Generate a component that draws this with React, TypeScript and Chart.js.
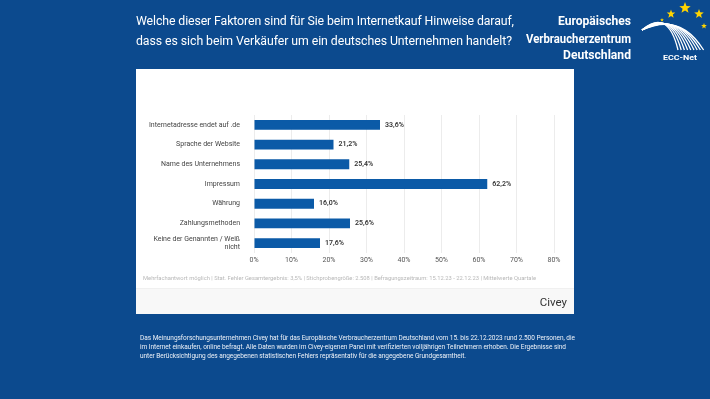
import React, { useEffect, useRef } from "react";
import { Chart, registerables } from "chart.js";

Chart.register(...registerables);

const categories: (string | string[])[] = [
  "Internetadresse endet auf .de",
  "Sprache der Website",
  "Name des Unternehmens",
  "Impressum",
  "Währung",
  "Zahlungsmethoden",
  ["Keine der Genannten / Weiß", "nicht"],
];
const values = [33.6, 21.2, 25.4, 62.2, 16.0, 25.6, 17.6];
const xTicks = [0, 10, 20, 30, 40, 50, 60, 70, 80];

const titleLines = [
  "Welche dieser Faktoren sind für Sie beim Internetkauf Hinweise darauf,",
  "dass es sich beim Verkäufer um ein deutsches Unternehmen handelt?",
];
const logoLines = ["Europäisches", "Verbraucherzentrum", "Deutschland"];
const footnote =
  "Mehrfachantwort möglich | Stat. Fehler Gesamtergebnis: 3,5% | Stichprobengröße: 2.508 | Befragungszeitraum: 15.12.23 - 22.12.23 | Mittelwerte Quartale";
const bodyLines = [
  "Das Meinungsforschungsunternehmen Civey hat für das Europäische Verbraucherzentrum Deutschland vom 15. bis 22.12.2023 rund 2.500 Personen, die",
  "im Internet einkaufen, online befragt. Alle Daten wurden im Civey-eigenen Panel mit verifizierten volljährigen Teilnehmern erhoben. Die Ergebnisse sind",
  "unter Berücksichtigung des angegebenen statistischen Fehlers repräsentativ für die angegebene Grundgesamtheit.",
];

const BLUE_BG = "#0c4a8e";
const BAR = "#0b5aa7";

const fmt = (v: number) => v.toFixed(1).replace(".", ",") + "%";

const valueLabels = {
  id: "valueLabels",
  afterDatasetsDraw(chart: any) {
    const ctx = chart.ctx;
    const meta = chart.getDatasetMeta(0);
    ctx.save();
    ctx.font = "600 7px Roboto";
    ctx.fillStyle = "#333";
    ctx.textAlign = "left";
    ctx.textBaseline = "middle";
    meta.data.forEach((bar: any, i: number) => {
      ctx.fillText(fmt(values[i]), bar.x + 5, bar.y);
    });
    ctx.restore();
  },
};

function Star({ cx, cy, r }: { cx: number; cy: number; r: number }) {
  const pts: string[] = [];
  for (let i = 0; i < 10; i++) {
    const a = -Math.PI / 2 + (i * Math.PI) / 5;
    const rr = i % 2 === 0 ? r : r * 0.42;
    pts.push(`${cx + rr * Math.cos(a)},${cy + rr * Math.sin(a)}`);
  }
  return <polygon points={pts.join(" ")} fill="#ffd400" />;
}

export default function App() {
  const ref = useRef<HTMLCanvasElement>(null);
  useEffect(() => {
    if (!ref.current) return;
    const chart = new Chart(ref.current, {
      type: "bar",
      data: {
        labels: categories,
        datasets: [
          {
            data: values,
            backgroundColor: BAR,
            barPercentage: 0.5,
            categoryPercentage: 1,
          },
        ],
      },
      options: {
        indexAxis: "y",
        animation: false,
        responsive: false,
        maintainAspectRatio: false,
        layout: { padding: { top: 46, right: 20, bottom: 0, left: 0 } },
        plugins: { legend: { display: false }, tooltip: { enabled: false } },
        scales: {
          x: {
            min: 0,
            max: 80,
            afterFit: (s: any) => {
              s.height = 16;
            },
            afterBuildTicks: (s: any) => {
              s.ticks = xTicks.map((v) => ({ value: v }));
            },
            grid: { color: "#ececec", drawTicks: false, lineWidth: 1 },
            border: { display: false },
            ticks: {
              padding: 3,
              color: "#555",
              font: { family: "Roboto", size: 7 },
              callback: (v: any) => v + "%",
            },
          },
          y: {
            afterFit: (s: any) => {
              s.width = 118;
            },
            grid: { display: false },
            border: { display: false },
            ticks: {
              autoSkip: false,
              padding: 6,
              color: "#444",
              font: { family: "Roboto", size: 7 },
            },
          },
        },
      },
      plugins: [valueLabels],
    });
    return () => chart.destroy();
  }, []);

  const arcs = [0, 1, 2, 3, 4, 5, 6, 7, 8];
  const titleLens = [378, 376];
  const titleBase = [25, 45];
  const logoLens = [73, 105, 68];
  const logoBase = [24.5, 42.5, 58.5];
  const bodyLens = [435, 426, 326];
  const bodyBase = [339.5, 348.5, 357.5];

  return (
    <div
      style={{
        position: "fixed",
        left: 0,
        top: 0,
        width: 710,
        height: 399,
        background: BLUE_BG,
        fontFamily: "Roboto",
        overflow: "hidden",
      }}
    >
      <div
        style={{
          position: "absolute",
          left: 136,
          top: 69,
          width: 438,
          height: 244,
          background: "#fff",
        }}
      >
        <div
          style={{
            position: "absolute",
            left: 0,
            top: 219,
            width: 438,
            height: 25,
            background: "#f8f8f8",
            borderTop: "1px solid #f0f0f0",
          }}
        />
        <canvas
          ref={ref}
          width={438}
          height={200}
          style={{ position: "absolute", left: 0, top: 0, width: 438, height: 200 }}
        />
      </div>
      <svg
        style={{ position: "absolute", left: 0, top: 0, pointerEvents: "none" }}
        width={710}
        height={399}
        fontFamily="Roboto"
      >
        {titleLines.map((t, i) => (
          <text
            key={"t" + i}
            x={136}
            y={titleBase[i]}
            fill="#fff"
            fontSize={12.3}
            textLength={titleLens[i]}
            lengthAdjust="spacing"
          >
            {t}
          </text>
        ))}
        {logoLines.map((t, i) => (
          <text
            key={"l" + i}
            x={631}
            y={logoBase[i]}
            fill="#fff"
            fontSize={12.5}
            fontWeight={700}
            textAnchor="end"
            textLength={logoLens[i]}
            lengthAdjust="spacingAndGlyphs"
          >
            {t}
          </text>
        ))}
        <g transform="translate(638,0)">
          {arcs.map((i) => (
            <path
              key={i}
              d={`M 4 30 Q ${30 + i * 1.5} ${8 + i * 0.5} ${40 + i * 3.2} 50`}
              stroke="#fff"
              strokeWidth={1.3}
              fill="none"
            />
          ))}
          <Star cx={33} cy={14} r={4.5} />
          <Star cx={47} cy={8} r={6} />
          <Star cx={61} cy={14} r={5} />
          <Star cx={66} cy={26} r={3} />
          <Star cx={24} cy={20} r={2} />
          <text
            x={42}
            y={60}
            fill="#fff"
            fontSize={8}
            fontWeight={700}
            textAnchor="middle"
            textLength={34}
            lengthAdjust="spacingAndGlyphs"
          >
            ECC-Net
          </text>
        </g>
        <text
          x={143}
          y={280}
          fill="#b8b8b8"
          fontSize={5.8}
          textLength={393}
          lengthAdjust="spacing"
        >
          {footnote}
        </text>
        <text x={567} y={306} fill="#333" fontSize={11.5} textAnchor="end">
          Civey
        </text>
        {bodyLines.map((t, i) => (
          <text
            key={"b" + i}
            x={140}
            y={bodyBase[i]}
            fill="#eef2f8"
            fontSize={6.5}
            textLength={bodyLens[i]}
            lengthAdjust="spacing"
          >
            {t}
          </text>
        ))}
      </svg>
    </div>
  );
}
